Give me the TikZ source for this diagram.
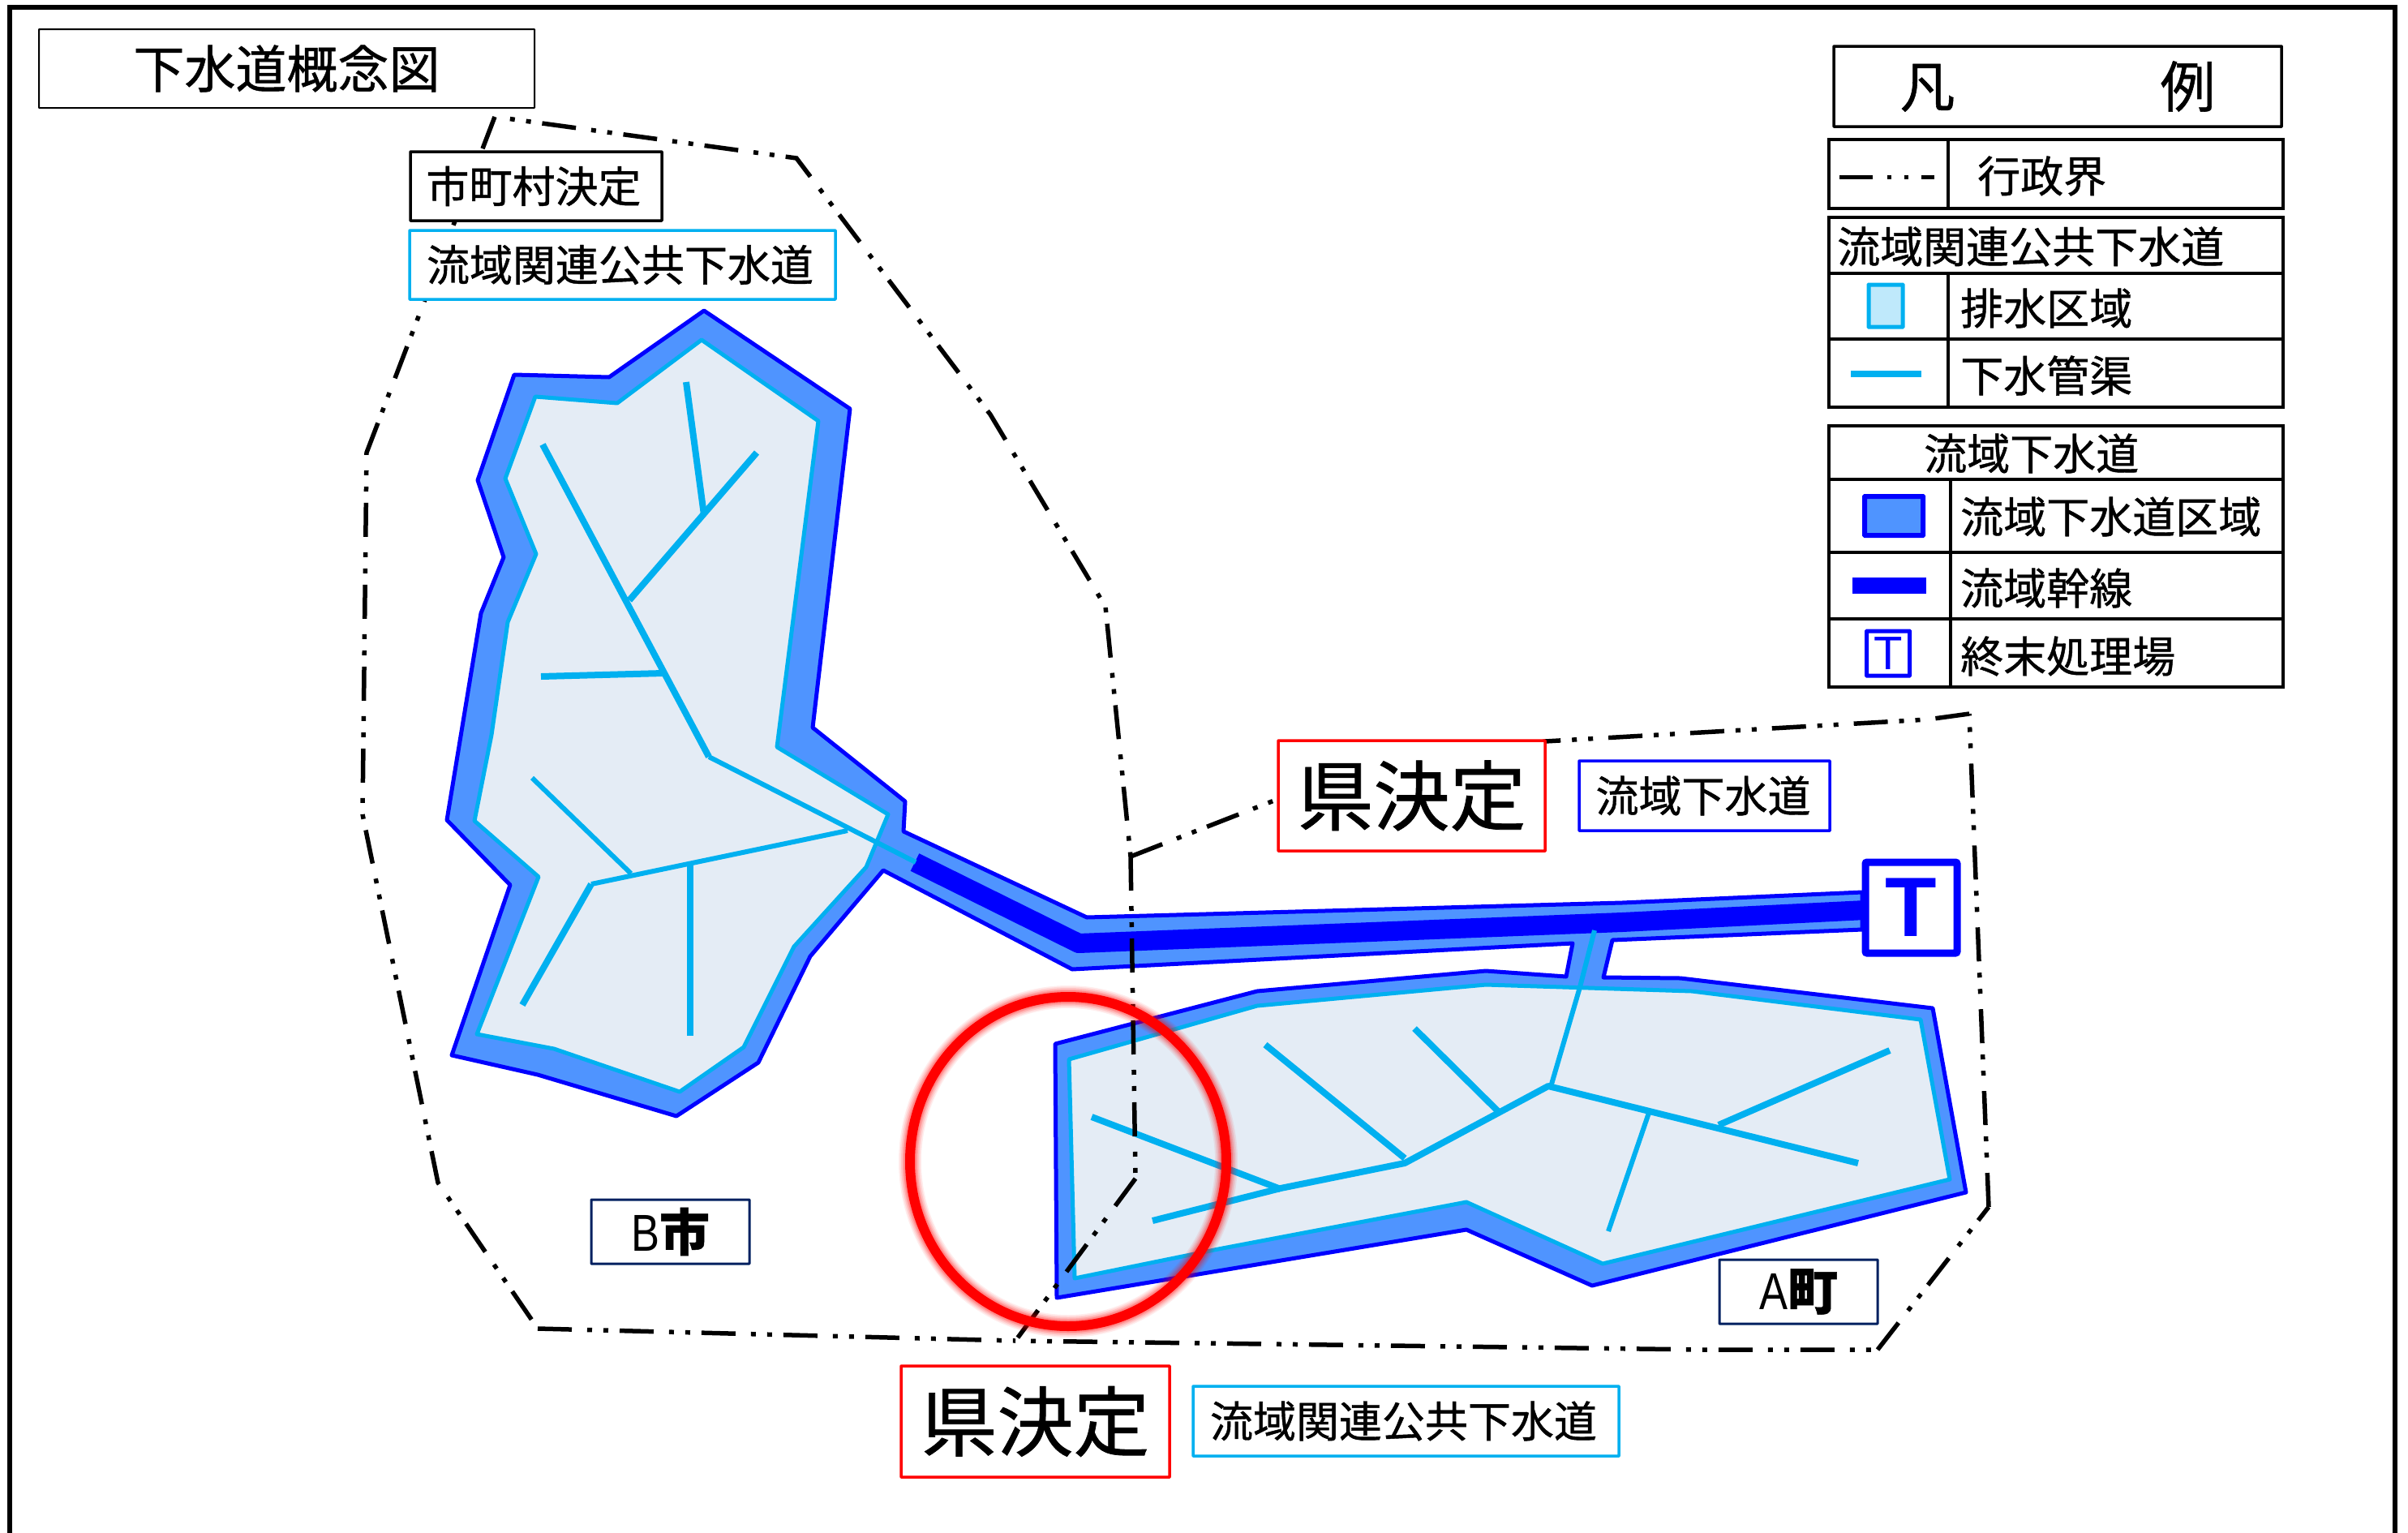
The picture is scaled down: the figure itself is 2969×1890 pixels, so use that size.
\documentclass[tikz,border=0pt]{standalone}
\usepackage{fontspec}
\newfontfamily\jp[FakeBold=0.8]{Noto Sans CJK JP}
\newfontfamily\lat{Liberation Sans}
\newfontfamily\latn[FakeStretch=0.82]{Liberation Sans}
\definecolor{cy}{HTML}{00B0F0}
\definecolor{bl}{HTML}{0000FF}
\definecolor{mid}{HTML}{4F94FF}
\definecolor{pale}{HTML}{E4ECF5}
\definecolor{lcy}{HTML}{BFE9FB}
\definecolor{navy}{HTML}{002060}
\definecolor{rd}{HTML}{FF0000}
\newcommand{\fs}[1]{\fontsize{#1}{#1}\selectfont}
\tikzset{
  jptext/.style={inner sep=0pt,font=\jp\fs{53}},
  labelbox/.style={jptext,draw,fill=white,line width=3.5pt,rounded corners=0.5pt},
  legtext/.style={jptext,anchor=west},
  legframe/.style={draw=black,fill=white,line width=3.5pt},
  legline/.style={draw=black,line width=3.5pt},
  admin/.style={draw=black,line width=5.5pt,line join=miter,dash pattern=on 42pt off 19pt on 6pt off 14pt on 6pt off 14pt},
  pipe/.style={draw=cy,line width=8pt,line join=round},
  pipethin/.style={draw=cy,line width=6pt,line join=round},
  inner region/.style={draw=cy,fill=pale,line width=5pt,line join=round},
}
\begin{document}
\begin{tikzpicture}[x=1pt,y=-1pt]
\useasboundingbox (0,0) rectangle (2969,1890);
% sheet frame
\draw[black,line width=6pt] (12,1892) -- (12,9) -- (2953,9) -- (2953,1892);
% outer sewerage area
\draw[draw=bl,fill=mid,line width=5pt,line join=round]
 (868,383) -- (1048,504) -- (1002,897) -- (1116,988) -- (1114,1025) -- (1340,1131) -- (2000,1113) -- (2296,1100)
 -- (2296,1146) -- (1988,1159) -- (1977,1205) -- (2072,1206) -- (2383,1243) -- (2424,1470) -- (1963,1585)
 -- (1808,1516) -- (1303,1600) -- (1301,1287) -- (1550,1222) -- (1832,1197) -- (1931,1204) -- (1939,1163)
 -- (1322,1195) -- (1089,1073) -- (999,1179) -- (935,1310) -- (834,1376) -- (663,1325) -- (557,1301)
 -- (629,1091) -- (551,1011) -- (593,756) -- (621,687) -- (589,592) -- (634,462) -- (751,465) -- cycle;
% inner areas
\draw[inner region]
 (865,419) -- (1009,519) -- (958,921) -- (1095,1004) -- (1068,1069) -- (979,1167) -- (917,1291) -- (838,1346)
 -- (683,1293) -- (588,1275) -- (664,1081) -- (585,1012) -- (606,906) -- (626,767) -- (661,683) -- (623,590)
 -- (660,489) -- (761,497) -- cycle;
\draw[inner region]
 (1318,1306) -- (1550,1240) -- (1832,1214) -- (2086,1222) -- (2368,1257) -- (2404,1454) -- (1976,1558)
 -- (1808,1482) -- (1502,1540) -- (1325,1576) -- cycle;
% trunk
\draw[draw=bl,line width=24pt,line join=round] (1128,1063) -- (1330,1163) -- (2000,1137) -- (2300,1122);
% pipes of B
\draw[pipe] (669,548) -- (874,933);
\draw[pipethin] (874,933) -- (1129,1063);
\draw[pipe] (846,471) -- (868,635);
\draw[pipe] (933,558) -- (776,740);
\draw[pipe] (667,834) -- (818,830);
\draw[pipethin] (656,959) -- (778,1077);
\draw[pipe] (644,1239) -- (729,1090);
\draw[pipethin] (729,1090) -- (1045,1024);
\draw[pipe] (851,1277) -- (851,1065);
% pipes of A
\draw[pipethin] (1966,1147) -- (1948,1217) -- (1912,1340);
\draw[pipe] (1421,1505) -- (1579,1465) -- (1732,1434) -- (1909,1339) -- (2291,1434);
\draw[pipe] (1346,1377) -- (1579,1466);
\draw[pipe] (1560,1288) -- (1732,1428);
\draw[pipe] (1744,1268) -- (1847,1370);
\draw[pipethin] (2033,1372) -- (1983,1518);
\draw[pipe] (2330,1295) -- (2119,1387);
% administrative boundaries
\draw[admin,dash phase=42pt] (610,144) -- (982,195) -- (1221,511) -- (1363,748) -- (1394,1056);
\draw[admin] (1394,1056) -- (1400,1453);
\draw[admin] (1400,1453) -- (1252,1653);
\draw[admin] (610,144) -- (452,558) -- (447,1004) -- (540,1458) -- (663,1638);
\draw[admin] (663,1638) -- (1252,1653);
\draw[admin,dash phase=42pt] (1252,1653) -- (2100,1664) -- (2315,1664);
\draw[admin] (2315,1664) -- (2452,1488);
\draw[admin] (2452,1488) -- (2428,880);
\draw[admin] (2428,880) -- (2377,887) -- (1905,914) -- (1576,985);
\draw[admin] (1394,1056) -- (1576,985);
% terminal plant
\node[draw=bl,fill=white,line width=9pt,rounded corners=2pt,minimum width=113pt,minimum height=112pt,inner sep=0pt,text=bl,font=\lat\bfseries\fs{104}] (plant) at (2356.5,1119) {T};
% labels
\node[labelbox,line width=2pt,font=\jp\fs{63},minimum width=611pt,minimum height=97pt] (title) at (353.5,84.5) {下水道概念図};
\node[labelbox,minimum width=310pt,minimum height=85pt,font=\jp\fs{53}] (muni) at (661,229.5) {市町村決定\kern6pt};
\node[labelbox,draw=cy,minimum width=525pt,minimum height=85pt] (rkoukyo) at (767.5,326.5) {流域関連公共下水道\kern6pt};
\node[labelbox,draw=rd,minimum width=329pt,minimum height=136pt,font=\jp\fs{94}] (ken1) at (1740.5,981) {県決定};
\node[labelbox,draw=bl,minimum width=309pt,minimum height=86pt,font=\jp\fs{53}] (ryuiki) at (2101.5,981) {流域下水道\kern3pt};
\node[labelbox,draw=navy,line width=3pt,minimum width=195pt,minimum height=79pt,font=\jp\fs{62}] (amachi) at (2217.5,1592.5) {{\latn\fs{64}A}\textbf{町}};
\node[labelbox,draw=navy,line width=3pt,minimum width=195pt,minimum height=79pt,font=\jp\fs{62}] (bshi) at (826.5,1518.5) {{\latn\fs{64}B}\textbf{市}};
\node[labelbox,draw=rd,minimum width=331pt,minimum height=137pt,font=\jp\fs{94}] (ken2) at (1276.5,1752.5) {県決定};
\node[labelbox,draw=cy,minimum width=525pt,minimum height=86pt] (rkoukyo2) at (1733.5,1752) {流域関連公共下水道\kern6pt};
% legend
\node[labelbox,legframe,minimum width=552pt,minimum height=99pt,font=\jp\fs{68}] (legtitle) at (2537,106.5) {凡\hskip253pt 例};
\draw[legframe] (2255,172) rectangle (2815,257);
\draw[legline] (2402,172) -- (2402,257);
\draw[draw=black,line width=5pt] (2268,218) -- (2309,218);
\draw[draw=black,line width=5pt] (2326.5,218) -- (2331.5,218);
\draw[draw=black,line width=5pt] (2347.5,218) -- (2352.5,218);
\draw[draw=black,line width=5pt] (2369,218) -- (2385,218);
\node[legtext] (l1) at (2438,217) {行政界};
\draw[legframe] (2255,268) rectangle (2815,502);
\draw[legline] (2255,337) -- (2815,337);
\draw[legline] (2255,418) -- (2815,418);
\draw[legline] (2402,337) -- (2402,502);
\node[legtext] (l2) at (2265,304) {流域関連公共下水道};
\draw[draw=cy,fill=lcy,line width=5pt,rounded corners=0.5pt] (2304,351) rectangle (2346,403);
\node[legtext] (l3) at (2417,380) {排水区域};
\draw[draw=cy,line width=8pt] (2282,461) -- (2369,461);
\node[legtext] (l4) at (2417,463) {下水管渠};
\draw[legframe] (2255,525) rectangle (2815,847);
\draw[legline] (2255,591) -- (2815,591);
\draw[legline] (2255,681) -- (2815,681);
\draw[legline] (2255,763) -- (2815,763);
\draw[legline] (2405,591) -- (2405,847);
\node[legtext] (l5) at (2372,559) {流域下水道};
\draw[draw=bl,fill=mid,line width=6pt,rounded corners=0.5pt] (2299,612) rectangle (2371,660);
\node[legtext] (l6) at (2417,637) {流域下水道区域};
\draw[draw=bl,line width=20pt] (2284,721.5) -- (2375,721.5);
\node[legtext] (l7) at (2417,725) {流域幹線};
\node[draw=bl,fill=white,line width=5pt,rounded corners=0.5pt,minimum width=53pt,minimum height=55pt,inner sep=0pt,text=bl,font=\lat\fs{58}] (legT) at (2328,805.5) {T};
\node[legtext] (l8) at (2417,809) {終末処理場};
% red ellipse with glow
\foreach \w/\o in {28/0.07,25/0.08,22/0.1,19/0.13,16/0.2}{
  \draw[rd,line width=\w pt,opacity=\o] (1317,1432) ellipse [x radius=195,y radius=203];
}
\draw[rd,line width=12pt] (1317,1432) ellipse [x radius=195,y radius=203];
\end{tikzpicture}
\end{document}
